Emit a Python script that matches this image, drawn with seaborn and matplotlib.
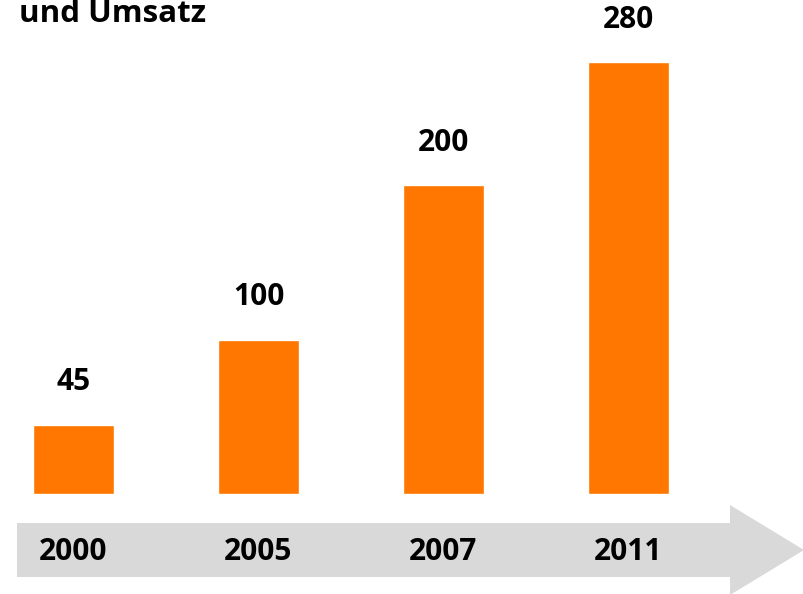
import numpy as np
import pandas as pd
import matplotlib.pyplot as plt
import seaborn as sns
from matplotlib.patches import Polygon

years = ["2000", "2005", "2007", "2011"]
values = [45, 100, 200, 280]
title = "und Umsatz"

sns.set_theme(style="white")
plt.rcParams['font.family'] = ['Open Sans', 'DejaVu Sans']

W, H = 804, 594
fig = plt.figure(figsize=(W / 100, H / 100), dpi=100)
ax = fig.add_axes([0, 0, 1, 1])

df = pd.DataFrame({"Jahr": years, "Wert": values})
sns.barplot(data=df, x="Jahr", y="Wert", color="#FF7700", width=0.438,
            saturation=1, ax=ax)

# pixel layout: bar spacing 185 px, baseline 100 px above bottom, 1.543 px per unit
step = 185.0
x0 = 73.5
ppu = 1.543
ax.set_xlim(-x0 / step, (W - x0) / step)
ax.set_ylim(-100 / ppu, (H - 100) / ppu)
ax.axis("off")

# grey timeline arrow, in figure pixels
pts = np.array([(17, 17), (730, 17), (730, -1), (804, 44), (730, 89), (730, 71), (17, 71)]) / 100.0
arrow = Polygon(pts, closed=True, facecolor="#D9D9D9", edgecolor="none",
                transform=fig.dpi_scale_trans, clip_on=False, zorder=0.5)
ax.add_patch(arrow)

for i, (yr, v) in enumerate(zip(years, values)):
    ax.text(i, v + 27.5, str(v), ha="center", va="center",
            fontsize=21.5, fontweight="bold", color="black")
    ax.text(i, -37.6, yr, ha="center", va="center",
            fontsize=21.5, fontweight="bold", color="black", zorder=3)

fig.text(19 / W, 1 - 22 / H, title, ha="left", va="baseline",
         fontsize=22.5, fontweight="bold", color="black")

fig.savefig("out.png", dpi=100)
